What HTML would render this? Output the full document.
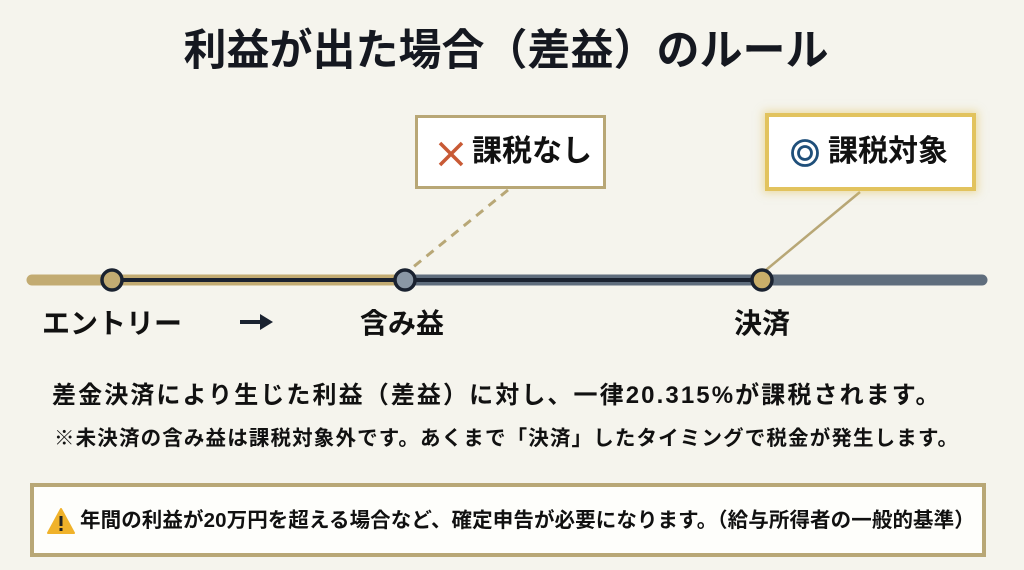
<!DOCTYPE html>
<html><head><meta charset="utf-8"><style>
html,body{margin:0;padding:0}
body{width:1024px;height:570px;background:#f5f4ed;position:relative;overflow:hidden;font-family:"Liberation Sans","Noto Sans CJK JP",sans-serif;font-weight:bold;color:#111}
.a{position:absolute;white-space:nowrap;line-height:1}
.box{position:absolute;background:#fff;box-sizing:border-box}
</style></head><body>
<div class="a" style="left:0;width:1012px;text-align:center;top:30px;font-size:43px;color:#151820">利益が出た場合（差益）のルール</div>

<svg class="a" style="left:0;top:0" width="1024" height="570">
<line x1="508" y1="190" x2="412" y2="268" stroke="#b8a776" stroke-width="3" stroke-dasharray="9,7"/>
<line x1="860" y1="192" x2="766" y2="270" stroke="#b8a776" stroke-width="2.5"/>
<line x1="32" y1="280" x2="405" y2="280" stroke="#c2ab72" stroke-width="11" stroke-linecap="round"/>
<line x1="405" y1="280" x2="982" y2="280" stroke="#5f6d7d" stroke-width="11" stroke-linecap="round"/>
<line x1="112" y1="280" x2="762" y2="280" stroke="#1a2230" stroke-width="4"/>
<circle cx="112" cy="280" r="10" fill="#c2ab72" stroke="#1a2230" stroke-width="3.5"/>
<circle cx="405" cy="280" r="10" fill="#8a97a5" stroke="#1a2230" stroke-width="3.5"/>
<circle cx="762" cy="280" r="10" fill="#c9ae6a" stroke="#1a2230" stroke-width="3.5"/>
<line x1="240" y1="322" x2="262" y2="322" stroke="#1a2230" stroke-width="4"/>
<polygon points="260,314 273,322 260,330" fill="#1a2230"/>
<!-- × mark -->
<line x1="440" y1="143" x2="462" y2="165" stroke="#c85a35" stroke-width="3.5"/>
<line x1="462" y1="143" x2="440" y2="165" stroke="#c85a35" stroke-width="3.5"/>
</svg>

<div class="box" style="left:415px;top:115px;width:191px;height:74px;border:3px solid #b8a776;z-index:-1"></div>
<div class="a" style="left:472px;top:137px;font-size:30px">課税なし</div>

<div class="box" style="left:765px;top:113px;width:211px;height:78px;border:4px solid #e2c35e;box-shadow:0 0 8px 2px rgba(226,195,94,0.5)"></div>
<svg class="a" style="left:790px;top:138px" width="30" height="30"><circle cx="15" cy="15" r="12.5" fill="none" stroke="#1f4f7a" stroke-width="2.8"/><circle cx="15" cy="15" r="6.5" fill="none" stroke="#1f4f7a" stroke-width="2.8"/></svg>
<div class="a" style="left:828px;top:137px;font-size:30px">課税対象</div>

<div class="a" style="left:42px;top:310px;font-size:28px">エントリー</div>
<div class="a" style="left:360px;top:310px;font-size:28px">含み益</div>
<div class="a" style="left:734px;top:310px;font-size:28px">決済</div>

<div class="a" style="left:52px;top:384px;font-size:24px;letter-spacing:2.1px">差金決済により生じた利益（差益）に対し、一律20.315%が課税されます。</div>
<div class="a" style="left:54px;top:429px;font-size:20.5px;letter-spacing:1.15px">※未決済の含み益は課税対象外です。あくまで「決済」したタイミングで税金が発生します。</div>

<div class="box" style="left:30px;top:483px;width:956px;height:74px;border:4px solid #b8a776;background:#fefefb"></div>
<svg class="a" style="left:46px;top:507px" width="30" height="28"><polygon points="15,2 28,26 2,26" fill="#f0b22a" stroke="#f0b22a" stroke-width="2" stroke-linejoin="round"/><rect x="13.5" y="9" width="3" height="10" fill="#222"/><rect x="13.5" y="21" width="3" height="3" fill="#222"/></svg>
<div class="a" style="left:80px;top:511px;font-size:20.5px;letter-spacing:0.1px">年間の利益が20万円を超える場合など、確定申告が必要になります。（給与所得者の一般的基準）</div>
</body></html>
